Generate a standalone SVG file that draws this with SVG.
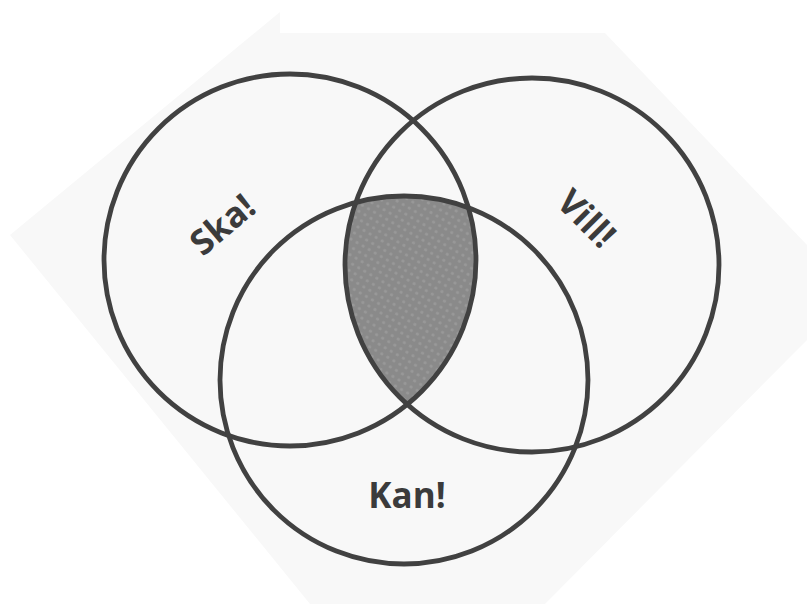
<svg xmlns="http://www.w3.org/2000/svg" width="807" height="604" viewBox="0 0 807 604">
  <defs>
    <style>
      .ring { fill: none; stroke: #414141; stroke-width: 4.8; }
      .label { font-family: "Open Sans", "Noto Sans", "Liberation Sans", sans-serif; font-weight: 700; font-size: 35px; fill: #3b3b3b; text-anchor: middle; }
    </style>
    <pattern id="dots" width="7" height="7" patternUnits="userSpaceOnUse" patternTransform="rotate(30)">
      <rect width="7" height="7" fill="#8a8a8a"/>
      <circle cx="3.5" cy="3.5" r="1.6" fill="#999999"/>
    </pattern>
  </defs>
  <rect width="807" height="604" fill="#ffffff"/>
  <polygon id="backdrop" points="10,235 280,12 280,33 605,33 807,245 807,340 545,604 310,604" fill="#f8f8f8"/>

  <g id="intersection">
    <path d="M355.8,202.4 A184,184 0 0 1 468.4,207.7 A186,186 0 0 1 407.3,404.4 A187,187 0 0 1 355.8,202.4 Z" fill="url(#dots)"/>
  </g>

  <g id="connectors"></g>

  <g id="ska">
    <circle class="ring" cx="290" cy="260" r="186"/>
    <text class="label" transform="translate(222,224) rotate(-40)" x="0" y="13">Ska!</text>
  </g>
  <g id="vill">
    <circle class="ring" cx="532" cy="265" r="187"/>
    <text class="label" transform="translate(587,218) rotate(45)" x="0" y="13">Vill!</text>
  </g>
  <g id="kan">
    <circle class="ring" cx="404" cy="380" r="184"/>
    <text class="label" x="407" y="508">Kan!</text>
  </g>
</svg>
